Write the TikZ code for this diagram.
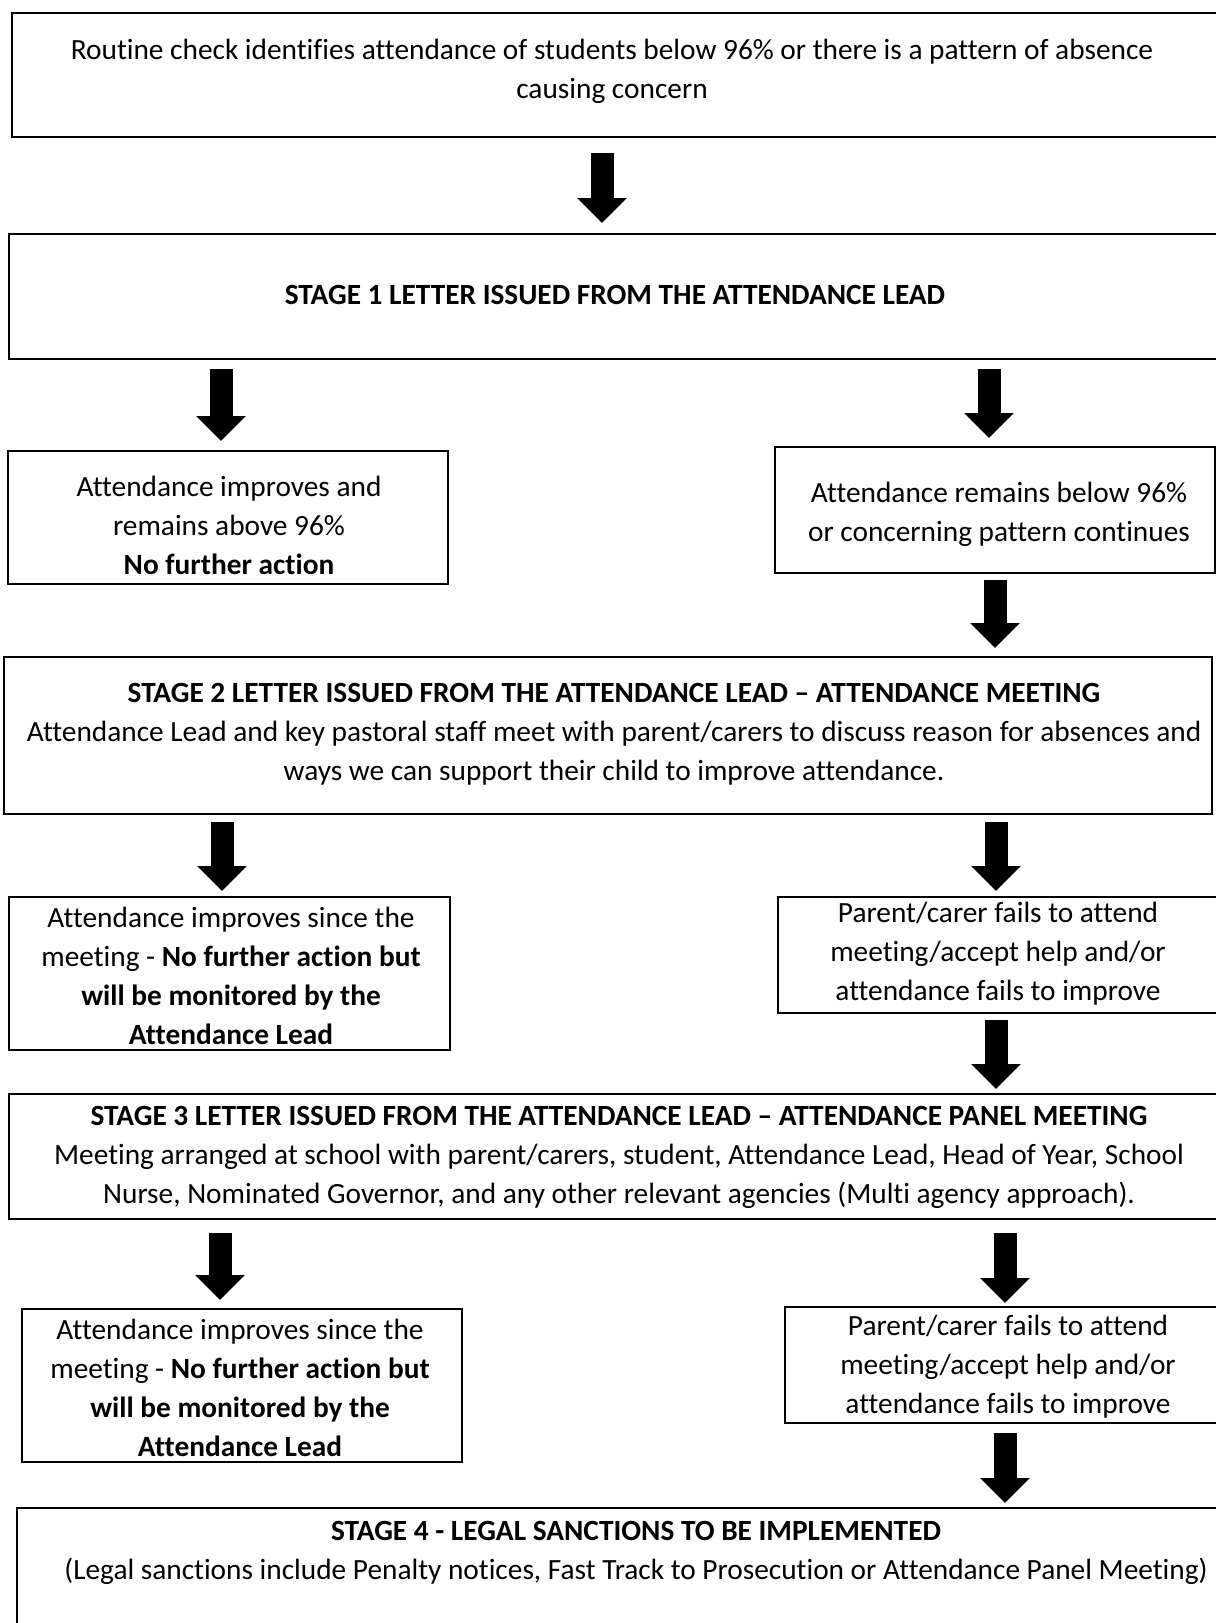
\documentclass[tikz,border=0pt]{standalone}
\usepackage{fontspec}
\setmainfont{Carlito}[Ligatures=NoCommon]
\usetikzlibrary{arrows.meta,fit,calc}
\begin{document}
\begin{tikzpicture}[x=0.75pt,y=-0.75pt,
  box/.style={draw=black,line width=1.7pt,inner sep=0pt,outer sep=0pt},
  txt/.style={align=center,inner sep=0pt,font=\fontsize{22}{29.25}\selectfont},
  bigarr/.style={line width=17.25pt,-{Triangle[length=18.75pt 0 0,width=36pt 0 0]}}]
\useasboundingbox (0,0) rectangle (1216,1623);
\clip (0,0) rectangle (1216,1623);
% boxes
\node[box,fit={(12,13) (1230,137)}] (b1) {};
\node[box,fit={(9,234) (1230,359)}] (b2) {};
\node[box,fit={(8,451) (448,584)}] (b3L) {};
\node[box,fit={(775,447) (1215,573)}] (b3R) {};
\node[box,fit={(4,657) (1212,814)}] (b4) {};
\node[box,fit={(9,897) (450,1050)}] (b5L) {};
\node[box,fit={(778,897) (1230,1013)}] (b5R) {};
\node[box,fit={(9,1094) (1230,1219)}] (b6) {};
\node[box,fit={(22,1309) (462,1462)}] (b7L) {};
\node[box,fit={(785,1307) (1230,1423)}] (b7R) {};
\node[box,fit={(17,1508) (1230,1660)}] (b8) {};
% texts
\node[txt] (t1) at (612,71.5) {Routine check identifies attendance of students below 96\% or there is a pattern of absence\\causing concern};
\node[txt] (t2) at (615,295) {\textbf{STAGE 1 LETTER ISSUED FROM THE ATTENDANCE LEAD}};
\node[txt] (t3L) at (229,525) {Attendance improves and\\remains above 96\%\\\textbf{No further action}};
\node[txt] (t3R) at (999,514) {Attendance remains below 96\%\\or concerning pattern continues};
\node[txt] (t4) at (614,734) {\textbf{STAGE 2 LETTER ISSUED FROM THE ATTENDANCE LEAD – ATTENDANCE MEETING}\\Attendance Lead and key pastoral staff meet with parent/carers to discuss reason for absences and\\ways we can support their child to improve attendance.};
\node[txt] (t5L) at (231,975.5) {Attendance improves since the\\meeting - \textbf{No further action but}\\\textbf{will be monitored by the}\\\textbf{Attendance Lead}};
\node[txt] (t5R) at (998,954) {Parent/carer fails to attend\\meeting/accept help and/or\\attendance fails to improve};
\node[txt] (t6) at (619,1157) {\textbf{STAGE 3 LETTER ISSUED FROM THE ATTENDANCE LEAD – ATTENDANCE PANEL MEETING}\\Meeting arranged at school with parent/carers, student, Attendance Lead, Head of Year, School\\Nurse, Nominated Governor, and any other relevant agencies (Multi agency approach).};
\node[txt] (t7L) at (240,1388) {Attendance improves since the\\meeting - \textbf{No further action but}\\\textbf{will be monitored by the}\\\textbf{Attendance Lead}};
\node[txt] (t7R) at (1008,1367) {Parent/carer fails to attend\\meeting/accept help and/or\\attendance fails to improve};
\node[txt] (t8) at (636,1553) {\textbf{STAGE 4 - LEGAL SANCTIONS TO BE IMPLEMENTED}\\(Legal sanctions include Penalty notices, Fast Track to Prosecution or Attendance Panel Meeting)};
% arrows
\draw[bigarr] ($(b1.south)+(-19,16)$) -- ($(b2.north)+(-17.5,-11)$);
\draw[bigarr] ($(b2.south -| b3L.north)+(-7,10)$) -- ($(b3L.north)+(-7,-10)$);
\draw[bigarr] ($(b2.south -| b3R.north)+(-6,10)$) -- ($(b3R.north)+(-6,-9)$);
\draw[bigarr] ($(b3R.south)+(0,7)$) -- ($(b4.north -| b3R.south)+(0,-9)$);
\draw[bigarr] ($(b4.south -| b5L.north)+(-7.5,8)$) -- ($(b5L.north)+(-7.5,-6)$);
\draw[bigarr] ($(b4.south -| b5R.north)+(-8,8)$) -- ($(b5R.north)+(-8,-6)$);
\draw[bigarr] ($(b5R.south)+(-8,7)$) -- ($(b6.north -| b5R.south)+(-8,-5)$);
\draw[bigarr] ($(b6.south -| b7L.north)+(-22,14)$) -- ($(b7L.north)+(-22,-9)$);
\draw[bigarr] ($(b6.south -| b7R.north)+(-2.5,14)$) -- ($(b7R.north)+(-2.5,-4)$);
\draw[bigarr] ($(b7R.south)+(-2.5,10)$) -- ($(b8.north -| b7R.south)+(-2.5,-5)$);
\end{tikzpicture}
\end{document}
